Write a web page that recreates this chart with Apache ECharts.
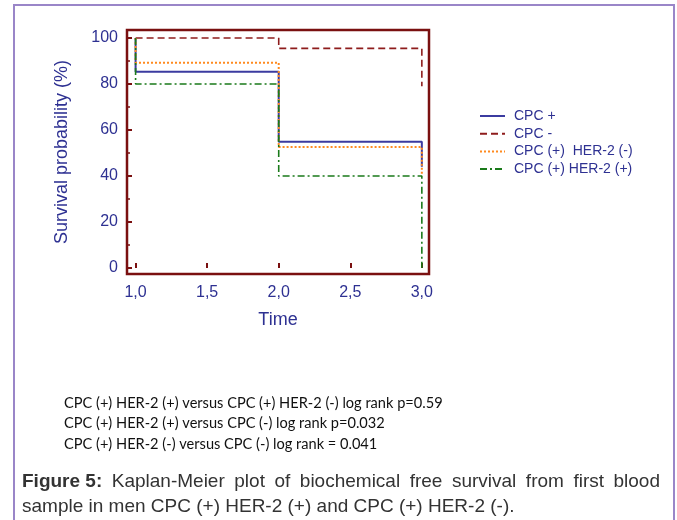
<!DOCTYPE html>
<html><head><meta charset="utf-8">
<script src="https://cdn.jsdelivr.net/npm/echarts@6/dist/echarts.min.js"></script>
<style>html,body{margin:0;padding:0;background:#fff}#c{width:677px;height:520px}</style>
</head><body><div id="c"></div>
<script>
// Series names
const seriesNames = ['CPC +', 'CPC -', 'CPC (+)  HER-2 (-)', 'CPC (+) HER-2 (+)'];
// Step vertices (time, survival %)
const cpcPosTime = [1, 1, 2, 3, 3];
const cpcPosSurv = [100, 85.3, 54.9, 54.9, 44];
const cpcNegTime = [1, 2, 3, 3];
const cpcNegSurv = [100, 95.5, 95.5, 79];
const her2NegTime = [1, 1, 2, 3, 3];
const her2NegSurv = [100, 89.3, 52.6, 52.6, 41];
const her2PosTime = [1, 1, 2, 3, 3];
const her2PosSurv = [100, 80, 40, 40, 0];
// Tick labels
const xTicks = [1, 1.5, 2, 2.5, 3];
const yTicks = [0, 20, 40, 60, 80, 100];
const yMinorTicks = [10, 30, 50, 70, 90];
const statLines = [
  'CPC (+) HER-2 (+) versus CPC (+) HER-2 (-) log rank p=0.59',
  'CPC (+) HER-2 (+) versus CPC (-) log rank p=0.032',
  'CPC (+) HER-2 (-) versus CPC (-) log rank = 0.041'
];
const captionBold = 'Figure 5:';
const captionLine1 = 'Kaplan-Meier plot of biochemical free survival from first blood';
const captionLine2 = 'sample in men CPC (+) HER-2 (+) and CPC (+) HER-2 (-).';

const zip = (t, s) => t.map((v, i) => [v, s[i]]);
const navy = '#2e3192';
const frame = '#7a1010';
const fmt = v => v.toFixed(1).replace('.', ',');

// justified caption line 1
const capFont = '19px "Liberation Sans"';
const capBoldFont = 'bold 19px "Liberation Sans"';
const cv = document.createElement('canvas').getContext('2d');
const measure = (t, f) => { cv.font = f; return cv.measureText(t).width; };
const words = [{t: captionBold, f: capBoldFont}].concat(captionLine1.split(' ').map(w => ({t: w, f: capFont})));
const lineLeft = 22, lineRight = 660;
const wordsW = words.reduce((s, w) => s + measure(w.t, w.f), 0);
const gapW = (lineRight - lineLeft - wordsW) / (words.length - 1);
let cx = lineLeft;
const capGraphics = words.map(w => {
  const g = {type: 'text', x: cx, y: 482, style: {text: w.t, fill: '#333', font: w.f, textVerticalAlign: 'middle'}};
  cx += measure(w.t, w.f) + gapW;
  return g;
});

const chart = echarts.init(document.getElementById('c'), null, {renderer: 'canvas'});
chart.setOption({
  animation: false,
  backgroundColor: '#fff',
  grid: {left: 127, top: 30, width: 302, height: 244, show: true, borderColor: frame, borderWidth: 2.5, backgroundColor: 'transparent'},
  xAxis: {
    type: 'value', min: 0.94, max: 3.05,
    name: 'Time', nameLocation: 'middle', nameGap: 37,
    nameTextStyle: {color: navy, fontSize: 18, fontFamily: 'Liberation Sans'},
    axisLine: {show: false},
    splitLine: {show: false},
    axisTick: {show: true, inside: true, length: 5, customValues: xTicks, lineStyle: {color: frame, width: 2}},
    axisLabel: {customValues: xTicks, formatter: fmt, color: navy, fontSize: 16, fontFamily: 'Liberation Sans', margin: 11}
  },
  yAxis: [{
    type: 'value', min: -2.6, max: 103.5,
    name: 'Survival probability (%)', nameLocation: 'middle', nameGap: 56, nameRotate: 90,
    nameTextStyle: {color: navy, fontSize: 18, fontFamily: 'Liberation Sans'},
    axisLine: {show: false},
    splitLine: {show: false},
    axisTick: {show: true, inside: true, length: 5, customValues: yTicks, lineStyle: {color: frame, width: 2}},
    axisLabel: {customValues: yTicks, color: navy, fontSize: 16, fontFamily: 'Liberation Sans', margin: 9}
  }, {
    type: 'value', min: -2.6, max: 103.5, position: 'left',
    axisLine: {show: false}, splitLine: {show: false},
    axisTick: {show: true, inside: true, length: 3, customValues: yMinorTicks, lineStyle: {color: frame, width: 1.5}},
    axisLabel: {show: false}
  }],
  legend: {
    orient: 'vertical', left: 474, top: 104, itemWidth: 25, itemHeight: 14, itemGap: 3.7,
    itemStyle: {opacity: 0},
    textStyle: {color: navy, fontSize: 14, fontFamily: 'Liberation Sans', padding: [0, 0, 0, 4]},
    data: seriesNames
  },
  series: [
    {name: seriesNames[0], type: 'line', step: 'end', symbol: 'none', data: zip(cpcPosTime, cpcPosSurv),
     lineStyle: {color: '#3b3ba0', width: 2, type: 'solid'}, itemStyle: {color: '#3b3ba0'}},
    {name: seriesNames[1], type: 'line', step: 'end', symbol: 'none', data: zip(cpcNegTime, cpcNegSurv),
     lineStyle: {color: '#8e1c1c', width: 1.6, type: [7, 4]}, itemStyle: {color: '#8e1c1c'}},
    {name: seriesNames[2], type: 'line', step: 'end', symbol: 'none', data: zip(her2NegTime, her2NegSurv),
     lineStyle: {color: '#ff8a1f', width: 2, type: [2, 2]}, itemStyle: {color: '#ff8a1f'}},
    {name: seriesNames[3], type: 'line', step: 'end', symbol: 'none', data: zip(her2PosTime, her2PosSurv),
     lineStyle: {color: '#1a7a1a', width: 1.6, type: [7, 3, 2, 3]}, itemStyle: {color: '#1a7a1a'}}
  ],
  graphic: [
    {type: 'rect', silent: true, shape: {x: 14, y: 5, width: 660, height: 540}, style: {fill: 'none', stroke: '#9a86c8', lineWidth: 2}},
    ...statLines.map((t, i) => ({type: 'text', x: 64, y: 403 + i * 20.5, style: {text: t, fill: '#111', font: '14.6px Lato', textVerticalAlign: 'middle'}})),
    ...capGraphics,
    {type: 'text', x: 22, y: 507, style: {text: captionLine2, fill: '#333', font: capFont, textVerticalAlign: 'middle'}}
  ]
});
</script></body></html>
